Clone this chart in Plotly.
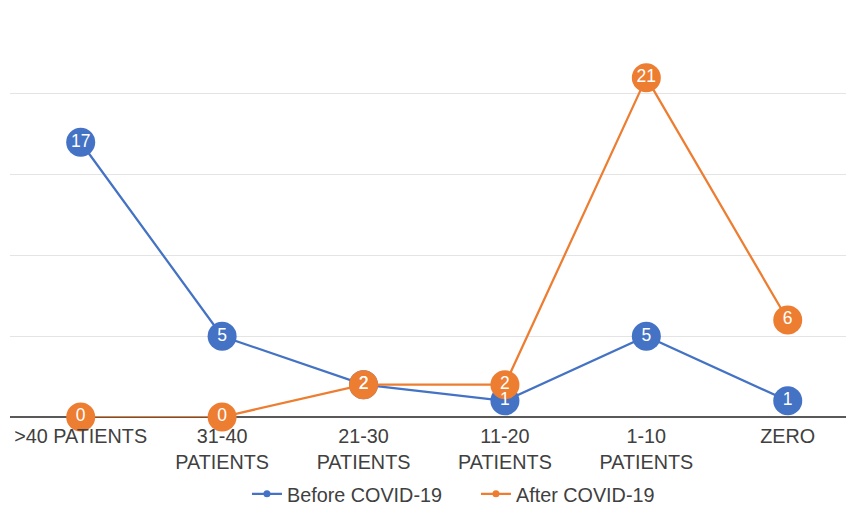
import plotly.graph_objects as go

categories = [">40 PATIENTS", "31-40<br>PATIENTS", "21-30<br>PATIENTS",
              "11-20<br>PATIENTS", "1-10<br>PATIENTS", "ZERO"]
before_covid = [17, 5, 2, 1, 5, 1]
after_covid = [0, 0, 2, 2, 21, 6]

BLUE = "#4472C4"
ORANGE = "#ED7D31"
FONT = "Liberation Sans, Arial, sans-serif"
W, H = 846, 505
B = 32            # bottom margin reserved for the legend
PH = H - B        # height of the plotting region

series = [("Before COVID-19", before_covid, BLUE),
          ("After COVID-19", after_covid, ORANGE)]

fig = go.Figure()

# lines and round markers
for name, values, color in series:
    fig.add_trace(go.Scatter(
        x=categories, y=values, mode="lines+markers",
        line=dict(color=color, width=2.25),
        marker=dict(color=color, size=29, line=dict(width=0)),
        showlegend=False, cliponaxis=False, hoverinfo="skip",
    ))

# value labels sit above every marker
for name, values, color in series:
    fig.add_trace(go.Scatter(
        x=categories, y=values, mode="text",
        text=[str(v) for v in values], textposition="middle center",
        textfont=dict(color="white", size=17.5, family=FONT),
        showlegend=False, cliponaxis=False, hoverinfo="skip",
    ))

# legend keys with a small marker
for name, values, color in series:
    fig.add_trace(go.Scatter(
        x=[None], y=[None], mode="lines+markers", name=name,
        line=dict(color=color, width=2.25),
        marker=dict(color=color, size=7),
    ))

fig.update_layout(
    width=W, height=H,
    margin=dict(l=0, r=0, t=0, b=B),
    paper_bgcolor="white", plot_bgcolor="white",
    font=dict(family=FONT, size=19.5, color="#404040"),
    legend=dict(orientation="h", xref="container", yref="container",
                x=0.5626, xanchor="center",
                y=(H - 494) / H, yanchor="middle",
                font=dict(size=19.8, color="#404040"),
                entrywidth=184, tracegroupgap=0),
)
fig.update_xaxes(
    type="category", range=[-0.5, 5.412], domain=[10 / W, 1],
    showgrid=False, showline=False, zeroline=False, automargin=False,
    ticks="", tickfont=dict(size=19.8, color="#404040"),
    ticklabelstandoff=5,
)
fig.update_yaxes(
    range=[0, 25], dtick=5, showticklabels=False, automargin=False,
    domain=[(PH - 417) / PH, (PH - 13) / PH],
    showgrid=True, gridcolor="#e4e4e4", gridwidth=1,
    zeroline=True, zerolinecolor="#595959", zerolinewidth=2,
    showline=False,
)

fig.write_html("out.html")
